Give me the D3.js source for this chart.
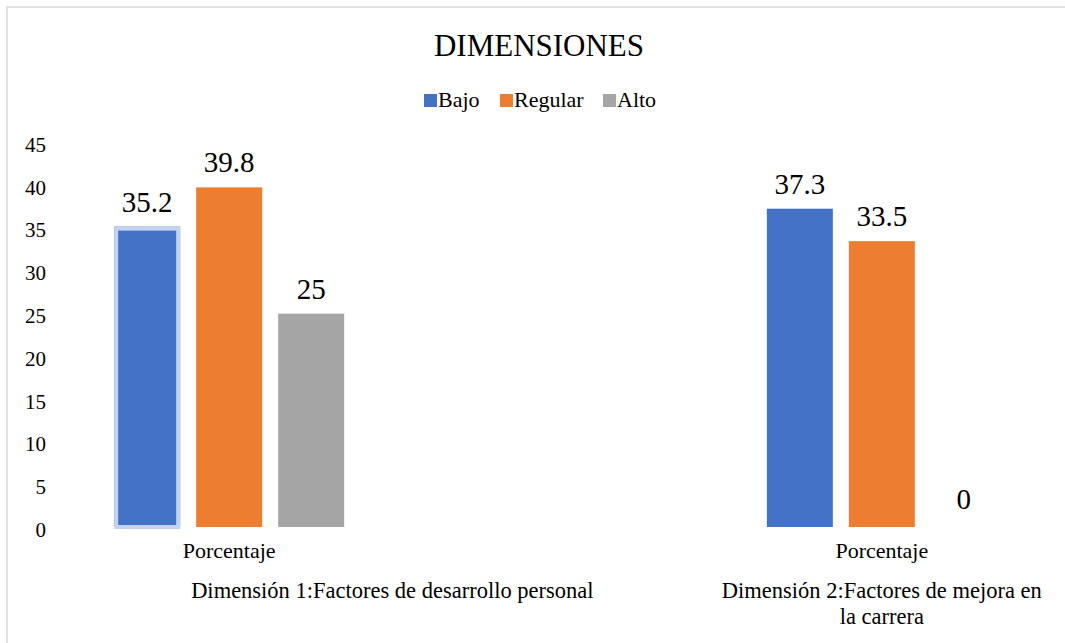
<!DOCTYPE html>
<html>
<head>
<meta charset="utf-8">
<script src="https://cdn.jsdelivr.net/npm/d3@7"></script>
<style>
  body { margin: 0; background: #fff; }
  text { font-family: 'Liberation Serif', 'Times New Roman', serif; }
</style>
</head>
<body>
<svg></svg>
<script>
const width = 1065;
const height = 643;
const font = "'Liberation Serif', 'Times New Roman', serif";

// inner categories (the middle slot is an empty category in the original sheet)
const categories = ['c1', 'c2', 'c3'];
const categoryLabels = ['Porcentaje', '', 'Porcentaje'];
const groupLabels = [
    'Dimensión 1:Factores de desarrollo personal',
    'Dimensión 2:Factores de mejora en la carrera'
];
const groupSpans = [['c1', 'c2'], ['c3', 'c3']];
const series = ['Bajo', 'Regular', 'Alto'];
const bajo = [35.2, null, 37.3];
const regular = [39.8, null, 33.5];
const alto = [25, null, 0];
const colors = ['#4472c4', '#ed7d31', '#a5a5a5'];
const yTicks = [0, 5, 10, 15, 20, 25, 30, 35, 40, 45];

const values = [bajo, regular, alto];
const rows = [];
categories.forEach((c, i) => {
    series.forEach((s, j) => {
        if (values[j][i] !== null) rows.push({ cat: c, series: s, value: values[j][i] });
    });
});

const svg = d3.select('svg')
    .attr('width', width)
    .attr('height', height)
    .attr('font-family', font);

// chart frame
svg.append('rect')
    .attr('x', 7)
    .attr('y', 7)
    .attr('width', width)
    .attr('height', height)
    .attr('fill', 'none')
    .attr('stroke', '#d9d9d9')
    .attr('stroke-width', 1.5);

const x = d3.scaleBand()
    .domain(categories)
    .range([66, 1045]);

const x1 = d3.scaleBand()
    .domain(series)
    .range([-115, 115])
    .paddingInner(0.195);

const y = d3.scaleLinear()
    .domain([0, 45])
    .range([527, 143]);

const color = d3.scaleOrdinal()
    .domain(series)
    .range(colors);

// title
svg.append('text')
    .attr('x', 539)
    .attr('y', 56)
    .attr('text-anchor', 'middle')
    .attr('font-family', font)
    .style('font-size', '31px')
    .text('DIMENSIONES');

// legend
const legendX = [424, 500, 603];
const legend = svg.append('g');
series.forEach((s, i) => {
    legend.append('rect')
        .attr('x', legendX[i])
        .attr('y', 94)
        .attr('width', 13)
        .attr('height', 13)
        .attr('fill', color(s));
    legend.append('text')
        .attr('x', legendX[i] + 14)
        .attr('y', 107)
        .attr('font-family', font)
        .style('font-size', '22px')
        .text(s);
});

// y axis
const yAxis = svg.append('g')
    .attr('transform', 'translate(46,0)')
    .call(d3.axisLeft(y).tickValues(yTicks).tickSize(0).tickPadding(0));
yAxis.attr('font-family', font);
yAxis.select('.domain').remove();
yAxis.selectAll('text')
    .attr('font-family', font)
    .attr('dy', d => (0.45 - d / 45 * 0.05) + 'em')
    .style('font-size', '21px')
    .attr('fill', '#000');

// bars
const barX = d => x(d.cat) + x.bandwidth() / 2 + x1(d.series);
svg.append('g')
    .selectAll('rect')
    .data(rows)
    .enter()
    .append('rect')
        .attr('x', d => barX(d))
        .attr('y', d => y(d.value))
        .attr('width', x1.bandwidth())
        .attr('height', d => y(0) - y(d.value))
        .attr('fill', d => color(d.series));

// selected bar halo as in the source picture
const sel = rows[0];
svg.append('rect')
    .attr('x', barX(sel) + 2)
    .attr('y', y(sel.value) + 2)
    .attr('width', x1.bandwidth() - 4)
    .attr('height', y(0) - y(sel.value) - 2)
    .attr('fill', color(sel.series))
    .attr('stroke', '#c3d3ef')
    .attr('stroke-width', 4);

// value labels
svg.append('g')
    .selectAll('text')
    .data(rows)
    .enter()
    .append('text')
        .attr('x', d => barX(d) + x1.bandwidth() / 2)
        .attr('y', d => y(d.value) - (d.value === 0 ? 18 : 15))
        .attr('text-anchor', 'middle')
        .attr('font-family', font)
        .style('font-size', '29px')
        .text(d => d.value);

// category labels
categories.forEach((c, i) => {
    svg.append('text')
        .attr('x', x(c) + x.bandwidth() / 2)
        .attr('y', 558)
        .attr('text-anchor', 'middle')
        .attr('font-family', font)
        .style('font-size', '22px')
        .text(categoryLabels[i]);
});

// outer group labels, wrapped to their span
groupLabels.forEach((label, i) => {
    const [a, b] = groupSpans[i];
    const left = x(a);
    const right = x(b) + x.bandwidth();
    const maxW = right - left;
    const t = svg.append('text')
        .attr('x', (left + right) / 2)
        .attr('y', 598)
        .attr('text-anchor', 'middle')
        .attr('font-family', font)
        .style('font-size', '22.5px');
    const words = label.split(' ');
    let line = [];
    let tspan = t.append('tspan').attr('x', (left + right) / 2).attr('dy', 0);
    for (const w of words) {
        line.push(w);
        tspan.text(line.join(' '));
        if (tspan.node().getComputedTextLength() > maxW && line.length > 1) {
            line.pop();
            tspan.text(line.join(' '));
            line = [w];
            tspan = t.append('tspan').attr('x', (left + right) / 2).attr('dy', 26).text(w);
        }
    }
});
</script>
</body>
</html>
